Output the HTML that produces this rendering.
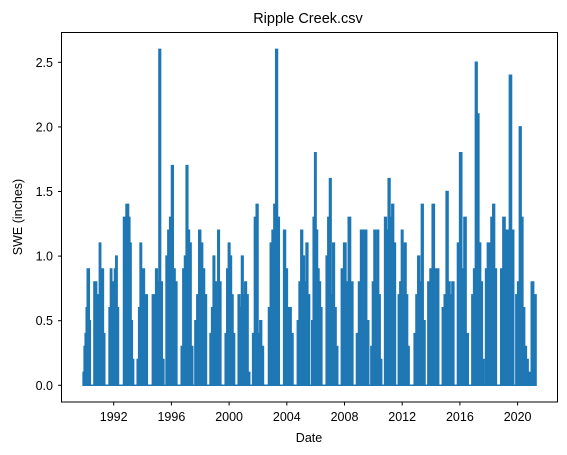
<!DOCTYPE html>
<html><head><meta charset="utf-8"><style>
body{margin:0;background:#fff;}
svg{display:block;font-family:"Liberation Sans","DejaVu Sans",sans-serif;}
</style></head><body>
<svg id="chart" width="567" height="455">
<text x="308" y="23" font-size="14.5" text-anchor="middle">Ripple Creek.csv</text>
<text x="309" y="442" font-size="12.5" text-anchor="middle">Date</text>
<text transform="translate(22,217) rotate(-90)" font-size="12.5" text-anchor="middle">SWE (inches)</text>
<g id="plot"></g>
<g id="axes"></g>
<rect x="61.5" y="32.5" width="496" height="369.5" fill="none" stroke="#000" stroke-width="1"/>
</svg>
<script>
const seasonStart=[1989.88,1990.63,1991.68,1992.68,1993.63,1994.68,1995.63,1996.68,1997.63,1998.68,1999.73,2000.63,2001.63,2002.73,2003.78,2004.73,2005.73,2006.73,2007.78,2008.83,2009.83,2010.78,2011.73,2012.83,2013.78,2014.78,2015.83,2016.83,2017.78,2018.83,2019.88,2020.78];
const seasonLen=[0.5,0.75,0.65,0.7,0.7,0.8,0.75,0.8,0.8,0.75,0.65,0.8,0.75,0.75,0.65,0.85,0.7,0.8,0.8,0.85,0.75,0.75,0.75,0.75,0.75,0.8,0.75,0.85,0.75,0.9,0.85,0.5];
const seasonValues=[
[0.1,0.3,0.4,0.6,0.9,0.9,0.5],
[0.8,0.8,0.7,0.7,1.1,0.9,0.9,0.4],
[0.6,0.9,0.7,0.8,0.9,1.0,0.6],
[1.3,1.1,1.4,1.4,1.3,1.1,0.5,0.2],
[0.2,0.6,1.1,0.9,0.9,0.6,0.7],
[0.7,0.7,0.9,0.8,2.6,0.8,0.2],
[1.0,1.2,1.3,1.7,0.9,0.8],
[0.3,0.9,1.0,1.7,1.2,1.1,0.3],
[0.5,0.7,1.2,1.1,0.9,0.7],
[0.4,0.6,1.0,0.8,0.6,1.2,0.8],
[0.4,0.9,1.1,1.0,0.7,0.4],
[0.7,0.6,1.0,0.7,0.8,0.7,0.1],
[0.4,1.3,1.4,0.4,0.5,0.3],
[0.6,1.1,1.2,1.4,2.6,1.3],
[1.2,0.9,0.6,0.6,0.4],
[0.5,0.8,1.2,1.0,0.8,1.1,0.7],
[0.5,1.3,1.8,1.2,0.9,0.8,0.6],
[1.0,1.3,1.6,0.7,1.1,0.6,0.3],
[0.9,1.1,0.8,1.3,0.8],
[0.4,0.8,1.2,1.2,1.2,0.5],
[0.3,0.8,1.2,0.8,1.2,0.7,0.2],
[1.3,1.2,1.6,1.3,1.4,1.1],
[0.7,0.8,1.2,0.7,1.1,0.7,0.3],
[0.4,0.7,1.0,0.8,1.4,0.5],
[0.8,0.9,1.4,0.9,0.9],
[0.6,0.7,1.5,0.8,0.7,0.8],
[1.1,1.8,0.9,1.3,0.4],
[0.7,0.9,2.5,2.1,1.1,0.8,0.2],
[0.9,1.1,1.1,1.3,1.4,0.9],
[0.9,1.3,1.2,1.2,2.4,1.2],
[0.7,0.8,2.0,1.3,0.6,0.3,0.2],
[0.1,0.8,0.7]];
const xTicks=[1992,1996,2000,2004,2008,2012,2016,2020];
const yTicks=[0.0,0.5,1.0,1.5,2.0,2.5];
const dataStart=1989.85, dataEnd=2021.3;

const NS='http://www.w3.org/2000/svg';
function xs(yr){return 113.7+(yr-1992)*57.7/4;}
function ys(v){return 385.3-v*129.2;}
const plot=document.getElementById('plot'), axes=document.getElementById('axes');
const base=document.createElementNS(NS,'line');


base.setAttribute('x1',xs(dataStart));base.setAttribute('x2',xs(dataEnd));
base.setAttribute('y1',ys(0));base.setAttribute('y2',ys(0));
base.setAttribute('stroke','#1f77b4');base.setAttribute('stroke-width','1.5');
plot.appendChild(base);
seasonValues.forEach((vals,i)=>{
  const s=seasonStart[i], L=seasonLen[i], w=L/vals.length;
  let d='M'+xs(s)+','+ys(0);
  vals.forEach((v,j)=>{d+=' L'+xs(s+j*w)+','+ys(v)+' L'+xs(s+(j+1)*w)+','+ys(v);});
  d+=' L'+xs(s+L)+','+ys(0)+' Z';
  const p=document.createElementNS(NS,'path');
  
  
  p.setAttribute('d',d);p.setAttribute('fill','#1f77b4');
  p.setAttribute('stroke','#1f77b4');p.setAttribute('stroke-width','1.5');
  plot.appendChild(p);
});
xTicks.forEach(t=>{
  const x=xs(t);
  const l=document.createElementNS(NS,'line');
  
  
  l.setAttribute('x1',x);l.setAttribute('x2',x);l.setAttribute('y1',402);l.setAttribute('y2',405.5);l.setAttribute('stroke','#000');
  axes.appendChild(l);
  const tx=document.createElementNS(NS,'text');
  
  
  tx.setAttribute('x',x);tx.setAttribute('y',421);tx.setAttribute('font-size','12.5');tx.setAttribute('text-anchor','middle');
  tx.textContent=t;axes.appendChild(tx);
});
yTicks.forEach(t=>{
  const y=ys(t);
  const l=document.createElementNS(NS,'line');
  
  
  l.setAttribute('x1',58);l.setAttribute('x2',61.5);l.setAttribute('y1',y);l.setAttribute('y2',y);l.setAttribute('stroke','#000');
  axes.appendChild(l);
  const tx=document.createElementNS(NS,'text');
  
  
  tx.setAttribute('x',53);tx.setAttribute('y',y+4.5);tx.setAttribute('font-size','12.5');tx.setAttribute('text-anchor','end');
  tx.textContent=t.toFixed(1);axes.appendChild(tx);
});
</script>
</body></html>
